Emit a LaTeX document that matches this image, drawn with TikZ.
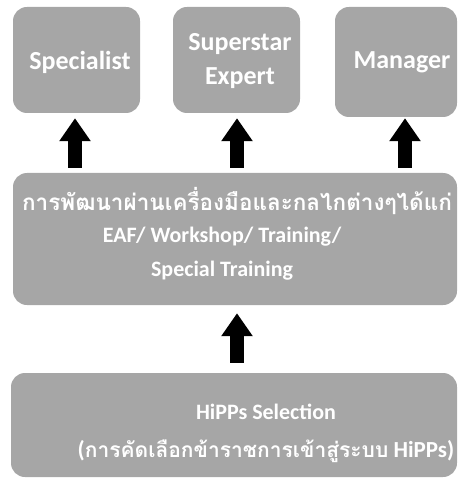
\documentclass[tikz,border=0pt]{standalone}
\usepackage{fontspec}
\setmainfont{Carlito}
\newfontfamily\thaifont[Script=Thai]{Loma}
\usetikzlibrary{arrows.meta}
\definecolor{boxgray}{HTML}{A6A6A6}
\begin{document}
\begin{tikzpicture}[x=1pt,y=-1pt,
  box/.style={fill=boxgray, rounded corners=14pt, inner sep=0pt},
  lbl/.style={text=white, inner sep=0pt, align=center, font=\bfseries\fontsize{26}{32}\selectfont},
  lblsmall/.style={text=white, inner sep=0pt, align=center, font=\bfseries\fontsize{22}{34}\selectfont},
  uparrow/.style={-{Triangle[width=30pt,length=23pt]}, line width=14pt, black}]
\useasboundingbox (0,0) rectangle (458,478);
% top boxes
\node[box, minimum width=127pt, minimum height=106pt] (spec) at (76.5,60) {};
\node[box, minimum width=127pt, minimum height=106pt] (star) at (236.5,60) {};
\node[box, minimum width=122pt, minimum height=110pt] (mgr) at (396,62) {};
\node[lbl] (tspec) at (80,62) {Specialist};
\node[lbl, font=\bfseries\fontsize{26}{34}\selectfont] (tstar) at (240,61) {Superstar\\Expert};
\node[lbl] (tmgr) at (402,62) {Manager};
% middle box
\node[box, minimum width=444pt, minimum height=132pt] (mid) at (235,239) {};
\node[text=white, inner sep=0pt, font=\thaifont\bfseries\fontsize{22.5}{24}\selectfont] (tthai) at (237,201) {การพัฒนาผ่านเครื่องมือและกลไกต่างๆได้แก่};
\node[lblsmall] (teaf) at (222,254) {EAF/ Workshop/ Training/\\Special Training};
% bottom box
\node[box, minimum width=446pt, minimum height=104pt] (bot) at (234,425) {};
\node[lblsmall] (tbot1) at (266,412) {HiPPs Selection};
\node[text=white, inner sep=0pt, font=\bfseries\fontsize{23}{26}\selectfont] (tbot2) at (266,451) {({\thaifont\fontsize{21}{26}\selectfont การคัดเลือกข้าราชการเข้าสู่ระบบ} HiPPs)};
% arrows
\coordinate (a1) at (75,0);
\coordinate (a2) at (237,0);
\coordinate (a3) at (405,0);
\draw[uparrow, shorten <=5pt, shorten >=5pt] (mid.north -| a1) -- (spec.south -| a1);
\draw[uparrow, shorten <=5pt, shorten >=5pt] (mid.north -| a2) -- (star.south -| a2);
\draw[uparrow, shorten <=5pt, shorten >=1pt] (mid.north -| a3) -- (mgr.south -| a3);
\draw[uparrow, shorten <=10pt, shorten >=8pt] (bot.north -| a2) -- (mid.south -| a2);
\end{tikzpicture}
\end{document}
